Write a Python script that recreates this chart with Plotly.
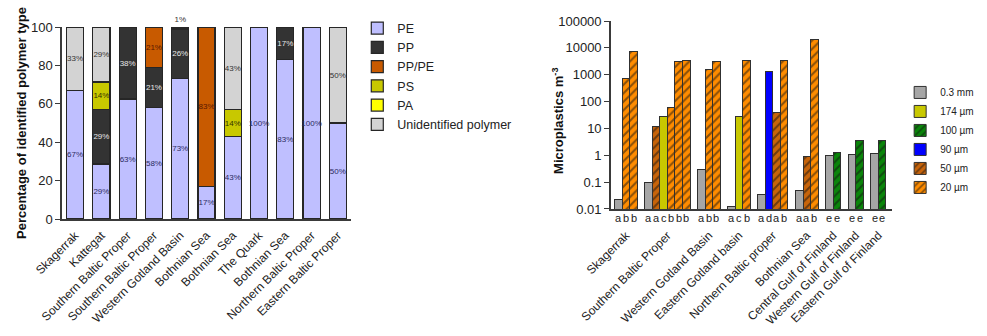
import plotly.graph_objects as go

FONT = "Liberation Sans, Arial, sans-serif"

# ---------------- Left chart data (percent of identified polymer type) -------------
left_sites = ["Skagerrak", "Kattegat", "Southern Baltic Proper", "Southern Baltic Proper",
              "Western Gotland Basin", "Bothnian Sea", "Bothnian Sea", "The Quark",
              "Bothnian Sea", "Northern Baltic Proper", "Eastern Baltic Proper"]
pe = [67, 28.6, 62.5, 58, 73, 17, 43, 100, 83, 100, 50]
pp = [None, 28.6, 37.5, 21, 26, None, None, None, 17, None, None]
pp_pe = [None, None, None, 21, None, 83, None, None, None, None, None]
ps = [None, 14.2, None, None, None, None, 14, None, None, None, None]
pa = [None] * 11
unidentified = [33, 28.6, None, None, 1, None, 43, None, None, None, 50]
left_yticks = [0, 20, 40, 60, 80, 100]

# ---------------- Right chart data (microplastics per m3) --------------------------
right_regions = ["Skagerrak", "Southern Baltic Proper", "Western Gotland Basin",
                 "Eastern Gotland basin", "Northern Baltic proper", "Bothnian Sea",
                 "Central Gulf of Finland", "Western Gulf of Finland", "Eastern Gulf of Finland"]
mesh_sizes = ["0.3 mm", "174 µm", "100 µm", "90 µm", "50 µm", "20 µm"]
bar_region = [0, 0, 0, 1, 1, 1, 1, 1, 1, 2, 2, 2, 3, 3, 3, 4, 4, 4, 4, 5, 5, 5, 6, 6, 7, 7, 8, 8]
bar_mesh = ["0.3 mm", "20 µm", "20 µm",
            "0.3 mm", "50 µm", "174 µm", "20 µm", "20 µm", "20 µm",
            "0.3 mm", "20 µm", "20 µm",
            "0.3 mm", "174 µm", "20 µm",
            "0.3 mm", "90 µm", "50 µm", "20 µm",
            "0.3 mm", "50 µm", "20 µm",
            "0.3 mm", "100 µm",
            "0.3 mm", "100 µm",
            "0.3 mm", "100 µm"]
bar_value = [0.023, 750, 7200,
             0.095, 12, 27, 60, 3050, 3250,
             0.29, 1630, 3050,
             0.012, 27, 3250,
             0.035, 1300, 40, 3250,
             0.05, 0.9, 20000,
             1.0, 1.3,
             1.1, 3.7,
             1.2, 3.7]
bar_letter = ["a", "b", "b",
              "a", "a", "c", "b", "b", "b",
              "a", "b", "b",
              "a", "c", "b",
              "a", "d", "a", "b",
              "a", "a", "b",
              "e", "e",
              "e", "e",
              "e", "e"]
right_yticks = [0.01, 0.1, 1, 10, 100, 1000, 10000, 100000]
right_yticklabels = ["0.01", "0.1", "1", "10", "100", "1000", "10000", "100000"]

# ---------------- Styles ----------------
left_styles = {
    "PE": dict(color="#BFBFFF", text="#2b2b5e"),
    "PP": dict(color="#333333", text="#e6e6e6"),
    "PP/PE": dict(color="#C85A00", text="#5a1800"),
    "PS": dict(color="#C8C800", text="#333300"),
    "PA": dict(color="#FFFF00", text="#333300"),
    "Unidentified polymer": dict(color="#D3D3D3", text="#333333"),
}
mesh_styles = {
    "0.3 mm": dict(color="#A6A6A6", hatch=False),
    "174 µm": dict(color="#C8C800", hatch=False),
    "100 µm": dict(color="#0A850A", hatch=True),
    "90 µm": dict(color="#0000FF", hatch=False),
    "50 µm": dict(color="#C8640A", hatch=True),
    "20 µm": dict(color="#FF8C00", hatch=True),
}

fig = go.Figure()

# ---------------- Left stacked bars ----------------
left_x = list(range(len(left_sites)))
left_series = [("PE", pe), ("PP", pp), ("PP/PE", pp_pe), ("PS", ps), ("PA", pa),
               ("Unidentified polymer", unidentified)]
for name, vals in left_series:
    st = left_styles[name]
    positions = ["outside" if (v is not None and v < 5) else "inside" for v in vals]
    fig.add_trace(go.Bar(
        x=left_x, y=vals, name=name, width=0.65,
        marker=dict(color=st["color"], line=dict(color="#262626", width=1.2)),
        texttemplate="%{y:.0f}%", textposition=positions, textangle=0,
        insidetextanchor="middle", constraintext="none",
        textfont=dict(family=FONT, size=8, color=st["text"]),
        outsidetextfont=dict(family=FONT, size=8, color="#333333"),
        cliponaxis=False,
        xaxis="x", yaxis="y", legend="legend", hoverinfo="skip",
    ))

# ---------------- Right bars (log scale) ----------------
slots = []
s = -1
prev = None
for r in bar_region:
    s += 1 if (prev is None or r == prev) else 2
    slots.append(s)
    prev = r
group_centers = []
for gi in range(len(right_regions)):
    ss = [slots[i] for i in range(len(slots)) if bar_region[i] == gi]
    group_centers.append(sum(ss) / len(ss))

for m in mesh_sizes:
    st = mesh_styles[m]
    xs = [slots[i] for i in range(len(bar_mesh)) if bar_mesh[i] == m]
    ys = [bar_value[i] for i in range(len(bar_mesh)) if bar_mesh[i] == m]
    marker = dict(color=st["color"], line=dict(color="#303030", width=1))
    if st["hatch"]:
        marker["pattern"] = dict(shape="/", fgcolor="#111111", bgcolor=st["color"],
                                 size=6, solidity=0.35, fillmode="overlay")
    fig.add_trace(go.Bar(
        x=xs, y=ys, name=m, width=1.0, marker=marker,
        xaxis="x2", yaxis="y2", legend="legend2", hoverinfo="x+y",
    ))

annotations = []
for i, letter in enumerate(bar_letter):
    annotations.append(dict(
        x=slots[i], y=0, xref="x2", yref="y2 domain", text=letter, showarrow=False,
        yanchor="top", yshift=-1, font=dict(family=FONT, size=11, color="#222222")))

annotations.append(dict(
    x=0.0223, y=0.634, xref="paper", yref="paper",
    text="<b>Percentage of identified polymer type</b>", textangle=-90, showarrow=False,
    font=dict(family=FONT, size=13, color="#111111"), xanchor="center", yanchor="middle"))
annotations.append(dict(
    x=0.5653, y=0.64, xref="paper", yref="paper",
    text="<b>Microplastics m<sup>-3</sup></b>", textangle=-90, showarrow=False,
    font=dict(family=FONT, size=13, color="#111111"), xanchor="center", yanchor="middle"))

axis_line = dict(showline=True, linecolor="#3a3a3a", linewidth=1.5, showgrid=False,
                 zeroline=False, automargin=False)

fig.update_layout(
    width=987, height=336,
    margin=dict(l=0, r=0, t=0, b=0, autoexpand=False),
    paper_bgcolor="white", plot_bgcolor="white",
    barmode="stack",
    font=dict(family=FONT, color="#222222"),
    xaxis=dict(domain=[0.0628, 0.3556], anchor="y", range=[-0.5, 10.5],
               tickvals=left_x, ticktext=left_sites, tickangle=-45,
               ticks="outside", ticklen=3, tickcolor="rgba(0,0,0,0)",
               tickfont=dict(family=FONT, size=12, color="#222222"), **axis_line),
    yaxis=dict(domain=[0.3482, 0.9196], anchor="x", range=[0, 100],
               tickvals=left_yticks, ticks="outside", ticklen=5, tickwidth=1.3,
               tickcolor="#3a3a3a",
               tickfont=dict(family=FONT, size=13, color="#222222"), **axis_line),
    xaxis2=dict(domain=[0.6190, 0.9037], anchor="y2", range=[-1.0, 36.3],
                tickvals=group_centers, ticktext=right_regions, tickangle=-45,
                ticks="outside", ticklen=13, tickcolor="rgba(0,0,0,0)",
                tickfont=dict(family=FONT, size=12, color="#222222"), **axis_line),
    yaxis2=dict(domain=[0.378, 0.9375], anchor="x2", type="log", range=[-2, 5],
                tickvals=right_yticks, ticktext=right_yticklabels,
                ticks="outside", ticklen=5, tickwidth=1.3, tickcolor="#3a3a3a",
                tickfont=dict(family=FONT, size=13, color="#222222"), **axis_line),
    legend=dict(x=0.362, y=0.96, xanchor="left", yanchor="top", traceorder="normal",
                font=dict(family=FONT, size=12.5, color="#222222"),
                bgcolor="rgba(0,0,0,0)"),
    legend2=dict(x=0.912, y=0.768, xanchor="left", yanchor="top", traceorder="normal",
                 font=dict(family=FONT, size=10, color="#222222"),
                 bgcolor="rgba(0,0,0,0)"),
    annotations=annotations,
    showlegend=True,
)

fig.write_html("out.html")
